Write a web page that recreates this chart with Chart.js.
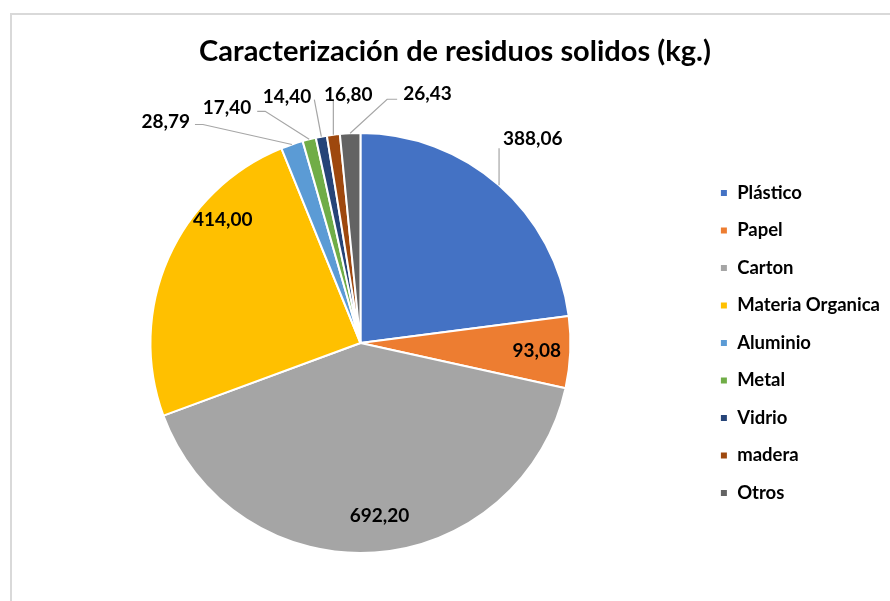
<!DOCTYPE html>
<html>
<head>
<meta charset="utf-8">
<script src="https://cdn.jsdelivr.net/npm/chart.js@4/dist/chart.umd.min.js"></script>
<style>
  html, body { margin: 0; padding: 0; background: #fff; overflow: hidden; }
  #frame { position: absolute; left: 10px; top: 13px; width: 920px; height: 640px; border: 2px solid #d9d9d9; }
  #chart { position: absolute; left: 0; top: 0; }
</style>
</head>
<body>
<div id="frame"></div>
<canvas id="chart" width="890" height="601"></canvas>
<script>
const categories = ['Plástico', 'Papel', 'Carton', 'Materia Organica', 'Aluminio', 'Metal', 'Vidrio', 'madera', 'Otros'];
const weights = [388.06, 93.08, 692.20, 414.00, 28.79, 17.40, 14.40, 16.80, 26.43];
const sliceColors = ['#4472C4', '#ED7D31', '#A5A5A5', '#FFC000', '#5B9BD5', '#70AD47', '#264478', '#9E480E', '#636363'];

// where each value label goes: inside the slice, or outside with a leader line
// inside: ratio of radius + turn (deg) away from the slice middle
// outside: elbow offset from the rim point, horizontal tail, text offset from tail end
const labelPlacement = [
  {out: true, elbow: [0, -37], tail: 0, text: [4, -9], align: 'left'},
  {ratio: 0.84, turn: 0},
  {ratio: 0.83, turn: -2.4},
  {ratio: 0.88, turn: 18},
  {out: true, elbow: [-89, -20], tail: -8, text: [-5, -3], align: 'right'},
  {out: true, elbow: [-44, -28], tail: -8, text: [-6, -3], align: 'right'},
  {out: true, elbow: [-7, -37], tail: 0, text: [-3, -3], align: 'right'},
  {out: true, elbow: [0, -35], tail: 0, text: [15, -5], align: 'center'},
  {out: true, elbow: [37, -34], tail: 10, text: [6, -5], align: 'left'}
];

const fmt = v => v.toFixed(2).replace('.', ',');

const valueLabels = {
  id: 'valueLabels',
  afterDatasetsDraw(chart) {
    const ctx = chart.ctx;
    const arcs = chart.getDatasetMeta(0).data;
    ctx.save();
    ctx.font = 'bold 19px Lato';
    ctx.fillStyle = '#000';
    ctx.textBaseline = 'middle';
    arcs.forEach((arc, i) => {
      const p = labelPlacement[i];
      const mid = (arc.startAngle + arc.endAngle) / 2;
      const r = arc.outerRadius;
      const text = fmt(weights[i]);
      if (!p.out) {
        const a = mid + p.turn * Math.PI / 180;
        ctx.textAlign = 'center';
        ctx.fillText(text, arc.x + Math.cos(a) * r * p.ratio, arc.y + Math.sin(a) * r * p.ratio);
        return;
      }
      const ex = arc.x + Math.cos(mid) * r;
      const ey = arc.y + Math.sin(mid) * r;
      const bx = ex + p.elbow[0];
      const by = ey + p.elbow[1];
      const tx = bx + p.tail;
      ctx.strokeStyle = '#a6a6a6';
      ctx.lineWidth = 1.2;
      ctx.beginPath();
      ctx.moveTo(ex, ey);
      ctx.lineTo(bx, by);
      ctx.lineTo(tx, by);
      ctx.stroke();
      ctx.textAlign = p.align;
      ctx.fillText(text, tx + p.text[0], by + p.text[1]);
    });
    ctx.restore();
  }
};

new Chart(document.getElementById('chart'), {
  type: 'pie',
  data: {
    labels: categories,
    datasets: [{
      data: weights,
      backgroundColor: sliceColors,
      borderColor: '#ffffff',
      borderWidth: 2
    }]
  },
  options: {
    responsive: false,
    devicePixelRatio: 1,
    animation: false,
    layout: {padding: {left: 20, right: 0, top: 20, bottom: 47}},
    plugins: {
      title: {
        display: true,
        text: 'Caracterización de residuos solidos (kg.)',
        color: '#000',
        font: {family: 'Lato', size: 29, weight: 'bold'},
        padding: {top: 14.6, bottom: 62.6}
      },
      legend: {
        position: 'right',
        fullSize: false,
        labels: {
          color: '#000',
          font: {family: 'Lato', size: 18.5, weight: 'bold'},
          boxWidth: 8,
          boxHeight: 8,
          padding: 19
        }
      },
      tooltip: {enabled: false}
    }
  },
  plugins: [valueLabels]
});
</script>
</body>
</html>
